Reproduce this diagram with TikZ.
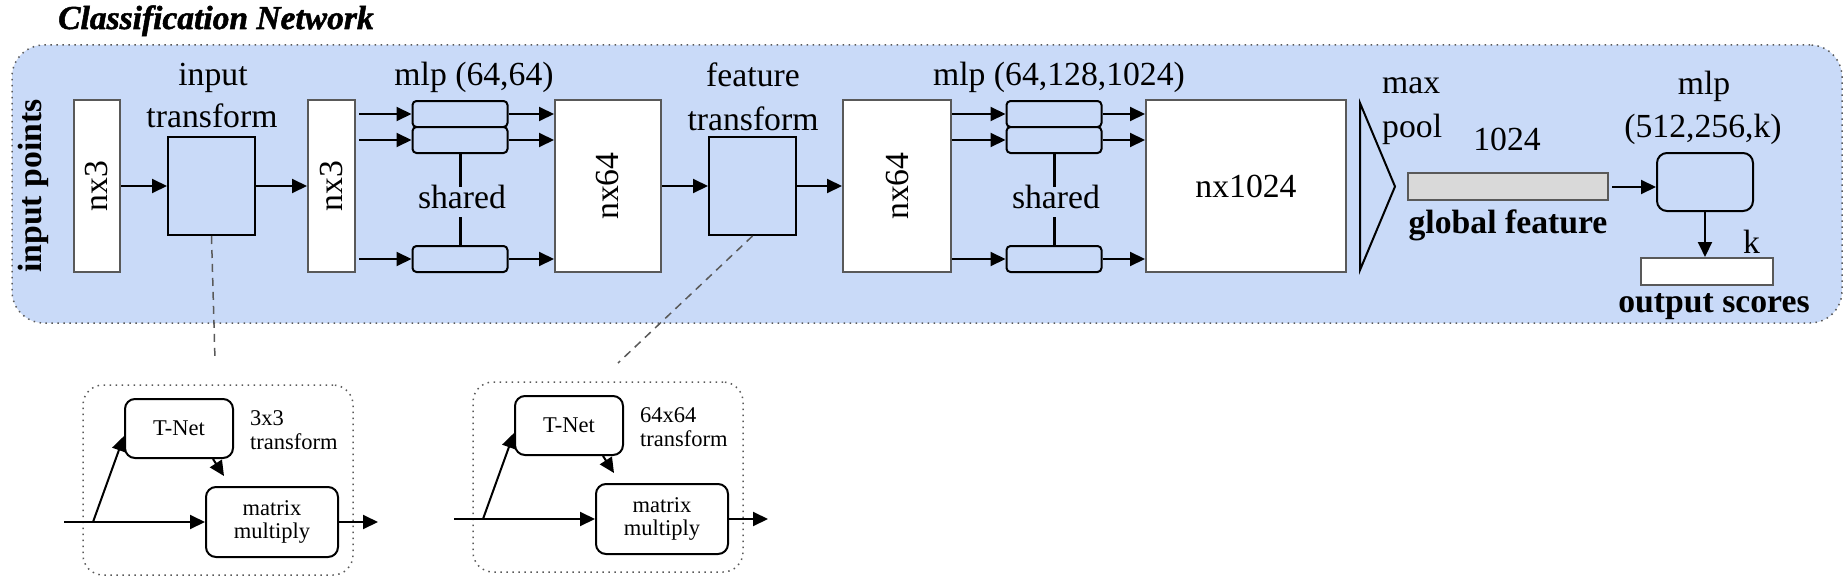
\documentclass[tikz,border=0pt]{standalone}
\usepackage{fontspec}
\setmainfont{Liberation Serif}
\newfontfamily\titlefont{Liberation Serif}[BoldItalicFeatures={FakeBold=1.5}]
\usepackage{graphicx}
\usetikzlibrary{arrows.meta,calc}
\definecolor{netblue}{HTML}{C9DAF8}
\definecolor{bordergray}{HTML}{595959}
\definecolor{bargray}{HTML}{D9D9D9}
\begin{document}
\begin{tikzpicture}[x=1pt,y=-1pt,
  big/.style={font=\fontsize{33.7}{42}\selectfont},
  bigbold/.style={font=\fontsize{33.7}{42}\selectfont\bfseries},
  small/.style={font=\fontsize{22.5}{23.5}\selectfont},
  lbl/.style={big, anchor=base, inner sep=0},
  slbl/.style={small, anchor=base west, inner sep=0},
  container/.style={draw=bordergray, line width=1.5pt, dash pattern=on 1.5pt off 4.5pt, fill=netblue, rounded corners=32pt, inner sep=0},
  dotbox/.style={draw=bordergray, line width=1.5pt, dash pattern=on 1.5pt off 4.5pt, rounded corners=20pt, inner sep=0, minimum width=270pt, minimum height=190pt},
  whitebox/.style={draw=bordergray, line width=2pt, fill=white, inner sep=0, big},
  tbox/.style={draw=black, line width=2pt, fill=netblue, inner sep=0, minimum width=87pt, minimum height=98pt},
  mlpbox/.style={draw=black, line width=2pt, fill=netblue, rounded corners=4pt, minimum width=95pt, minimum height=26pt, inner sep=0},
  tnet/.style={draw=black, line width=2pt, fill=white, rounded corners=10pt, inner sep=0, small, align=center},
  arr/.style={line width=2pt, -{Triangle[length=15pt,width=14pt]}},
  sharedline/.style={line width=3pt},
  dashline/.style={draw=bordergray, line width=1.5pt, dash pattern=on 8pt off 6pt},
]
\path[use as bounding box] (0,0) rectangle (1845,586);

% container
\node[container, minimum width=1830pt, minimum height=278pt] (net) at (927,184) {};
\node[font=\titlefont\fontsize{33.5}{36}\selectfont\bfseries\itshape, anchor=base west, inner sep=0] (title) at (58,29) {Classification Network};
\node[bigbold, anchor=base, inner sep=0, rotate=90] (inpts) at (41,186) {input points};

% input part
\node[whitebox, minimum width=46pt, minimum height=172pt] (in1) at (97,186) {\rotatebox{90}{nx3}};
\node[tbox] (t1) at (211.5,186) {};
\node[lbl] (t1a) at (213,85) {input};
\node[lbl] (t1b) at (212,127) {transform};
\node[whitebox, minimum width=47pt, minimum height=172pt] (in2) at (331.5,186) {\rotatebox{90}{nx3}};
\draw[arr] (in1.east) -- (t1.west);
\draw[arr] (t1.east) -- (in2.west);

% mlp (64,64)
\node[lbl] (mlp1) at (474,85) {mlp (64,64)};
\node[mlpbox] (m1a) at (460,114) {};
\node[mlpbox] (m1b) at (460,140) {};
\node[mlpbox] (m1c) at (460,259) {};
\node[whitebox, minimum width=106pt, minimum height=172pt] (n1) at (608,186) {\rotatebox{90}{nx64}};
\foreach \b in {m1a,m1b,m1c}{
  \draw[arr] ($(in2.east |- \b.west)+(3,0)$) -- (\b.west);
  \draw[arr] (\b.east) -- (\b.east -| n1.west);
}
\node[lbl] (sh1) at (462,208) {shared};
\draw[sharedline] (m1b.south) -- ++(0,33);
\draw[sharedline] (m1c.north) -- ++(0,-28);

% feature transform
\node[tbox] (t2) at (752.5,186) {};
\node[lbl] (t2a) at (753,87) {feature};
\node[lbl] (t2b) at (753,130) {transform};
\node[whitebox, minimum width=108pt, minimum height=172pt] (n2) at (897,186) {\rotatebox{90}{nx64}};
\draw[arr] (n1.east) -- (t2.west);
\draw[arr] (t2.east) -- (n2.west);

% mlp (64,128,1024)
\node[lbl] (mlp2) at (1059,85) {mlp (64,128,1024)};
\node[mlpbox] (m2a) at (1054,114) {};
\node[mlpbox] (m2b) at (1054,140) {};
\node[mlpbox] (m2c) at (1054,259) {};
\node[whitebox, minimum width=200pt, minimum height=172pt] (n3) at (1246,186) {nx1024};
\foreach \b in {m2a,m2b,m2c}{
  \draw[arr] (n2.east |- \b.west) -- (\b.west);
  \draw[arr] (\b.east) -- (\b.east -| n3.west);
}
\node[lbl] (sh2) at (1056,208) {shared};
\draw[sharedline] (m2b.south) -- ++(0,33);
\draw[sharedline] (m2c.north) -- ++(0,-28);

% max pool
\draw[line width=2pt, line join=miter] (1360,103) -- (1395,186.5) -- (1360,270) -- cycle;
\node[big, anchor=base west, inner sep=0] (mx) at (1382,93) {max};
\node[big, anchor=base west, inner sep=0] (pl) at (1382,137) {pool};

% global feature
\node[lbl] (g1024) at (1507,150) {1024};
\node[draw=bordergray, line width=2pt, fill=bargray, minimum width=200pt, minimum height=27pt, inner sep=0] (gf) at (1508,186.5) {};
\node[bigbold, anchor=base, inner sep=0] (gft) at (1508,233) {global feature};

% final mlp
\node[lbl] (mlp3a) at (1704,95) {mlp};
\node[lbl] (mlp3b) at (1703,137) {(512,256,k)};
\node[draw=black, line width=2pt, fill=netblue, rounded corners=10pt, minimum width=96pt, minimum height=58pt, inner sep=0] (m3) at (1705,182) {};
\draw[arr] ($(gf.east)+(3,0.5)$) -- ($(gf.east -| m3.west)+(0,0.5)$);
\node[whitebox, minimum width=132pt, minimum height=27pt] (out) at (1707,271.5) {};
\draw[arr] (m3.south) -- (m3.south |- out.north);
\node[big, anchor=base west, inner sep=0] (kk) at (1743,253) {k};
\node[bigbold, anchor=base, inner sep=0] (os) at (1714,312) {output scores};

% dashed links
\coordinate (d1) at (215,360);
\coordinate (d2) at (618,363);
\draw[dashline] (t1.south) -- (d1);
\draw[dashline] (t2.south) -- (d2);

% lower group 1
\node[dotbox] (g1) at (218,480) {};
\node[tnet, minimum width=108pt, minimum height=59pt] (tn1) at (179,428.5) {T-Net};
\node[slbl] (l1a) at (250,425) {3x3};
\node[slbl] (l1b) at (250,449) {transform};
\node[tnet, minimum width=132pt, minimum height=70pt] (mm1) at (272,522) {matrix\\multiply};
\coordinate (i1) at (64,522);
\coordinate (b1) at (93,522);
\coordinate (o1) at (378,522);
\draw[line width=2pt] (i1) -- (b1);
\draw[arr] (b1) -- (mm1.west);
\draw[arr] (b1) -- ($(tn1.south west)+(0,-23)$);
\draw[arr] ($(tn1.south)+(34,0)$) -- ($(mm1.north)+(-48,-10)$);
\draw[arr] (mm1.east) -- (o1);

% lower group 2
\node[dotbox] (g2) at (608,477) {};
\node[tnet, minimum width=108pt, minimum height=59pt] (tn2) at (569,425.5) {T-Net};
\node[slbl] (l2a) at (640,422) {64x64};
\node[slbl] (l2b) at (640,446) {transform};
\node[tnet, minimum width=132pt, minimum height=70pt] (mm2) at (662,519) {matrix\\multiply};
\coordinate (i2) at (454,519);
\coordinate (b2) at (483,519);
\coordinate (o2) at (768,519);
\draw[line width=2pt] (i2) -- (b2);
\draw[arr] (b2) -- (mm2.west);
\draw[arr] (b2) -- ($(tn2.south west)+(0,-23)$);
\draw[arr] ($(tn2.south)+(34,0)$) -- ($(mm2.north)+(-48,-10)$);
\draw[arr] (mm2.east) -- (o2);
\end{tikzpicture}
\end{document}
